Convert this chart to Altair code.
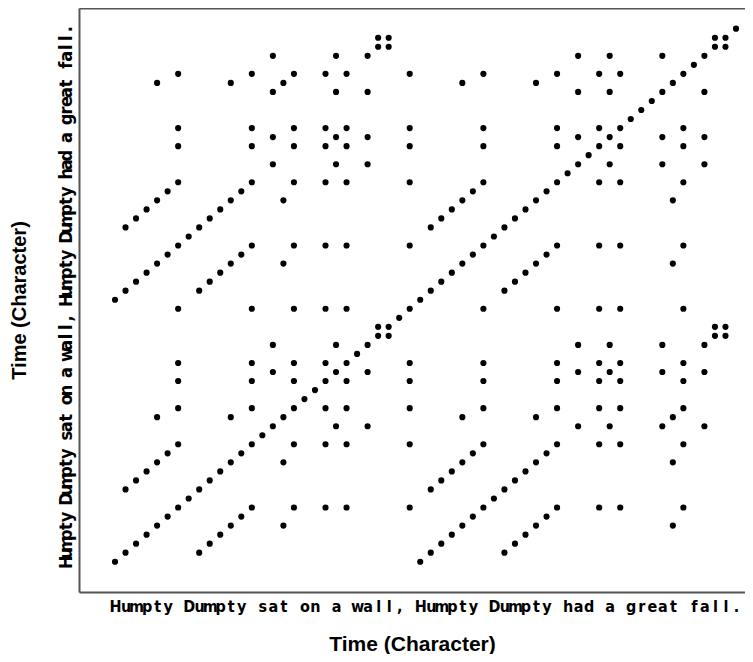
import json
import altair as alt
import pandas as pd

# Text whose characters form both time axes
text = "Humpty Dumpty sat on a wall, Humpty Dumpty had a great fall."
chars = list(text)
positions = list(range(len(chars)))

# Recurrence: a point wherever character i equals character j
xs, ys = [], []
for i in positions:
    for j in positions:
        if chars[i] == chars[j]:
            xs.append(i)
            ys.append(j)
df = pd.DataFrame({"x": xs, "y": ys})

label_expr = json.dumps(chars) + "[datum.value]"

W, H = 666, 584
LABEL_FONT = "Liberation Sans Narrow, DejaVu Sans Condensed, Liberation Sans, Arial, sans-serif"
TITLE_FONT = "Liberation Sans, Arial, Helvetica, sans-serif"
FRAME = "#555555"

x_scale = alt.Scale(domain=[-3.42, 59.855], nice=False, zero=False)
y_scale = alt.Scale(domain=[-3.35, 61.29], nice=False, zero=False)

points = alt.Chart(df).mark_circle(size=38, color="black", opacity=1).encode(
    x=alt.X(
        "x:Q",
        scale=x_scale,
        axis=alt.Axis(
            title="Time (Character)",
            values=positions,
            labelExpr=label_expr,
            labelOverlap=False,
            labelFlush=False,
            ticks=False,
            grid=False,
            labelFont=LABEL_FONT,
            labelFontSize=16,
            labelFontWeight="bold",
            labelColor="black",
            labelAngle=0,
            labelAlign="center",
            labelBaseline="top",
            labelPadding=6,
            titleFont=TITLE_FONT,
            titleFontSize=21,
            titleFontWeight="bold",
            titleColor="black",
            titlePadding=19,
            domainColor=FRAME,
            domainWidth=2,
        ),
    ),
    y=alt.Y(
        "y:Q",
        scale=y_scale,
        axis=alt.Axis(
            title="Time (Character)",
            values=positions,
            labelExpr=label_expr,
            labelOverlap=False,
            labelFlush=False,
            ticks=False,
            grid=False,
            labelFont=LABEL_FONT,
            labelFontSize=18,
            labelFontWeight="bold",
            labelColor="black",
            labelAngle=270,
            labelAlign="center",
            labelBaseline="alphabetic",
            labelPadding=8,
            titleFont=TITLE_FONT,
            titleFontSize=20,
            titleFontWeight="bold",
            titleColor="black",
            titlePadding=28,
            domainColor=FRAME,
            domainWidth=2,
        ),
    ),
)

# Top frame line drawn as a bare top axis on the same x scale (invisible marks)
top_frame = alt.Chart(df).mark_circle(opacity=0).encode(
    x=alt.X(
        "x:Q",
        scale=x_scale,
        axis=alt.Axis(
            orient="top", labels=False, ticks=False, grid=False, title=None,
            domainColor=FRAME, domainWidth=2,
        ),
    ),
)

chart = (
    alt.layer(points, top_frame)
    .resolve_axis(x="independent")
    .properties(
        width=W,
        height=H,
        autosize=alt.AutoSizeParams(type="none"),
        padding={"left": 71, "top": 0, "right": 0, "bottom": 62},
        background="white",
    )
    .configure_view(stroke="transparent", strokeWidth=0)
)

chart.save("out.html", embed_options={"renderer": "svg", "actions": False})
